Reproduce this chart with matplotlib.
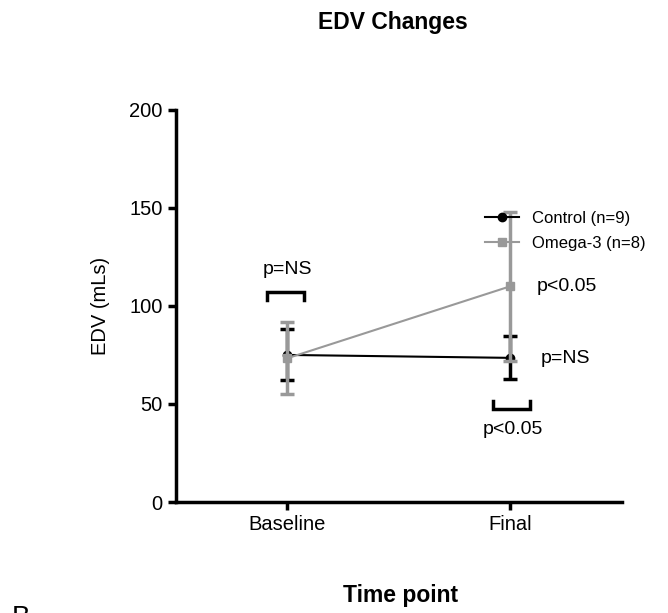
import matplotlib.pyplot as plt
from matplotlib.lines import Line2D

plt.rcParams['font.family'] = ['Liberation Sans', 'DejaVu Sans']

timepoints = ['Baseline', 'Final']
control_mean = [75, 73.5]
control_err = [13, 11]
omega_mean = [73.3, 110]
omega_err = [18.3, 38]

grey = '#999999'

fig = plt.figure(figsize=(6.68, 6.13), dpi=100)
ax = fig.add_axes([0.263, 0.181, 0.668, 0.640])

x = list(range(len(timepoints)))

# Control (black circles)
ax.errorbar(x, control_mean, yerr=control_err, color='black', marker='o', markersize=6,
            lw=1.5, elinewidth=2.5, capsize=5, capthick=2.5, zorder=3)
# Omega-3 (grey squares)
ax.errorbar(x, omega_mean, yerr=omega_err, color=grey, marker='s', markersize=6,
            lw=1.5, elinewidth=2.5, capsize=5, capthick=2.5, zorder=4)

# brackets and p values
ax.plot([-0.09, -0.09, 0.076, 0.076], [103, 107, 107, 103], color='black', lw=2.5,
        solid_joinstyle='miter')
ax.text(0.0, 118.5, 'p=NS', ha='center', va='center', fontsize=14)
ax.plot([0.92, 0.92, 1.09, 1.09], [51.5, 47.5, 47.5, 51.5], color='black', lw=2.5,
        solid_joinstyle='miter')
ax.text(1.01, 37, 'p<0.05', ha='center', va='center', fontsize=14)
ax.text(1.12, 110, 'p<0.05', ha='left', va='center', fontsize=14)
ax.text(1.135, 73, 'p=NS', ha='left', va='center', fontsize=14)

ax.set_xlim(-0.5, 1.5)
ax.set_ylim(0, 200)
ax.set_yticks([0, 50, 100, 150, 200])
ax.set_xticks(x)
ax.set_xticklabels(timepoints)
ax.tick_params(labelsize=14.5, width=2.5, length=6)
ax.spines['top'].set_visible(False)
ax.spines['right'].set_visible(False)
ax.spines['left'].set_linewidth(2.5)
ax.spines['bottom'].set_linewidth(2.5)
ax.set_ylabel('EDV (mLs)', fontsize=14.5, labelpad=14)

handles = [Line2D([], [], color='black', marker='o', markersize=6, lw=1.5),
           Line2D([], [], color=grey, marker='s', markersize=6, lw=1.5)]
ax.legend(handles, ['Control (n=9)', 'Omega-3 (n=8)'], loc='upper left',
          bbox_to_anchor=(0.66, 0.78), frameon=False, fontsize=12,
          handlelength=2, labelspacing=0.6)

fig.text(0.588, 0.964, 'EDV Changes', ha='center', va='center', fontsize=16.5, fontweight='bold')
fig.text(0.599, 0.029, 'Time point', ha='center', va='center', fontsize=16.5, fontweight='bold')
fig.text(0.018, -0.008, 'B', ha='left', va='center', fontsize=20)

fig.savefig('out.png', dpi=100)
